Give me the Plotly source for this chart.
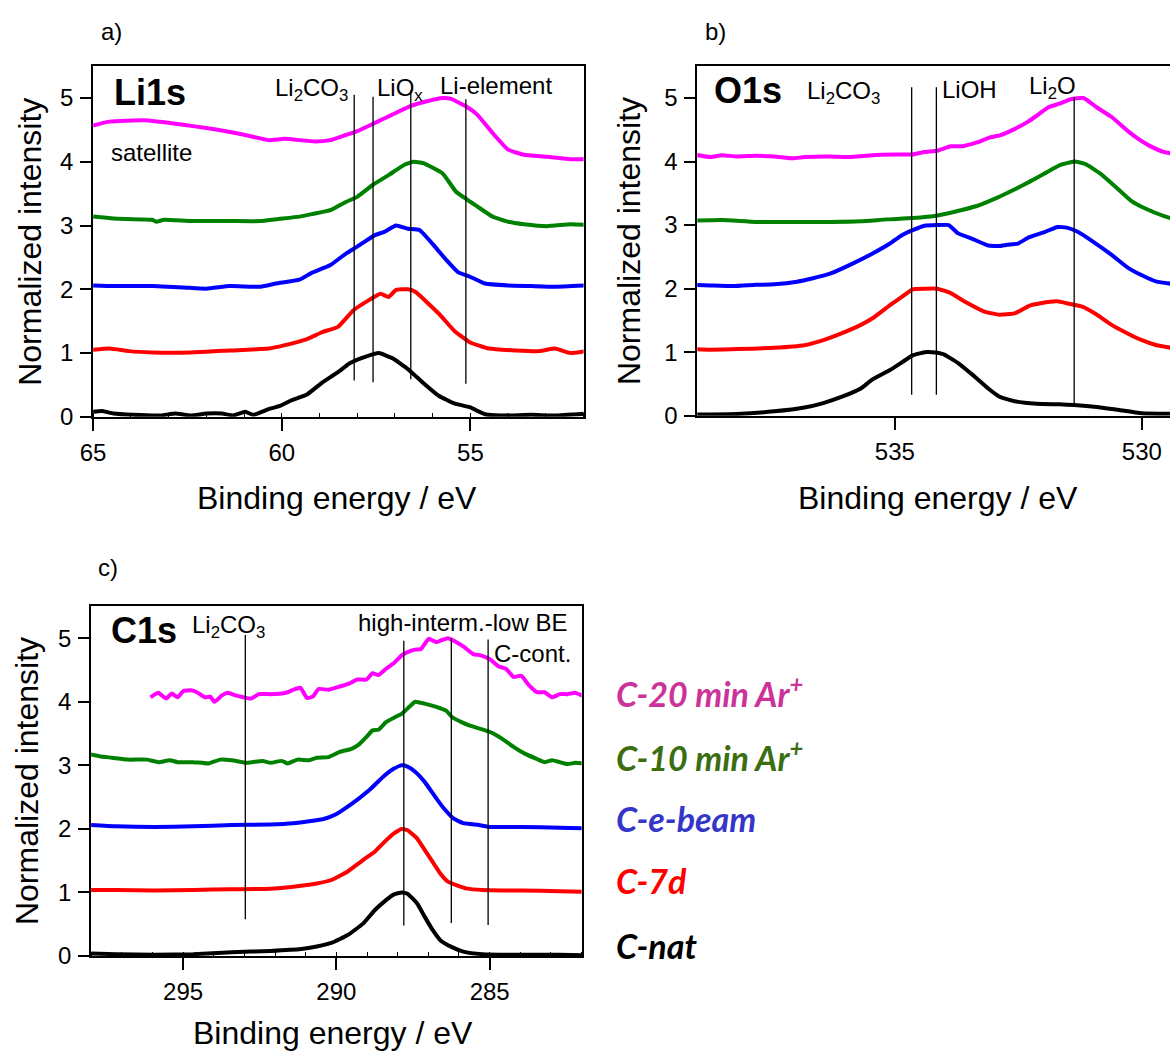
import plotly.graph_objects as go

W, H = 1170, 1052

SERIES = ["C-nat", "C-7d", "C-e-beam", "C-10 min Ar<sup>+</sup>", "C-20 min Ar<sup>+</sup>"]
LINE_COLORS = ["#000000", "#FF0000", "#0000FF", "#008000", "#FF00FF"]
LABEL_COLORS = ["#000000", "#FF0000", "#3535C8", "#3B6E11", "#CC3399"]

# ---------------- Li 1s ----------------
LI_X_NAT = [65, 64.76, 64.46, 63.94, 63.23, 62.82, 62.41, 62.0, 61.58, 61.28, 60.97, 60.76, 60.35, 60.05,
            59.74, 59.33, 58.92, 58.51, 58.2, 57.79, 57.43, 57.07, 56.66, 56.25, 55.84, 55.43, 55.02,
            54.61, 54.2, 53.38, 52.76, 51.94]
LI_Y_NAT = [0.08, 0.09, 0.05, 0.03, 0.02, 0.05, 0.02, 0.05, 0.05, 0.02, 0.08, 0.03, 0.12, 0.17,
            0.26, 0.35, 0.54, 0.70, 0.84, 0.94, 1.0, 0.92, 0.75, 0.53, 0.33, 0.21, 0.15,
            0.04, 0.02, 0.03, 0.02, 0.05]
LI_X_7D = [65, 64.56, 64.05, 63.43, 62.41, 61.38, 60.35, 59.94, 59.33, 58.92, 58.51, 58.10, 57.69, 57.38,
           57.17, 56.97, 56.66, 56.46, 55.84, 55.43, 55.02, 54.51, 53.79, 53.17, 52.76, 52.35, 51.94]
LI_Y_7D = [1.05, 1.07, 1.03, 1.01, 1.01, 1.04, 1.07, 1.12, 1.22, 1.33, 1.41, 1.67, 1.83, 1.93,
           1.88, 1.99, 2.0, 1.96, 1.62, 1.35, 1.17, 1.07, 1.04, 1.03, 1.07, 1.0, 1.03]
LI_X_EB = [65, 64.46, 63.43, 62.61, 62.0, 61.38, 60.56, 60.15, 59.53, 59.23, 58.71, 58.30, 58.0, 57.53,
           57.28, 56.97, 56.66, 56.35, 55.94, 55.64, 55.33, 55.02, 54.61, 54.0, 53.38, 52.76, 51.94]
LI_Y_EB = [2.06, 2.05, 2.05, 2.03, 2.01, 2.05, 2.04, 2.09, 2.15, 2.25, 2.38, 2.56, 2.67, 2.85,
           2.90, 3.0, 2.95, 2.93, 2.67, 2.46, 2.27, 2.20, 2.09, 2.06, 2.05, 2.04, 2.06]
LI_X_10 = [65, 64.46, 63.43, 63.33, 63.12, 62.41, 61.38, 60.56, 60.15, 59.53, 59.12, 58.71, 58.30, 58.0,
           57.58, 57.17, 56.76, 56.51, 56.25, 55.74, 55.38, 55.07, 54.82, 54.41, 54.0, 53.58, 52.97,
           52.35, 51.94]
LI_Y_10 = [3.14, 3.11, 3.09, 3.06, 3.09, 3.07, 3.07, 3.07, 3.10, 3.14, 3.19, 3.24, 3.37, 3.45,
           3.64, 3.79, 3.95, 4.0, 3.98, 3.82, 3.53, 3.40, 3.30, 3.14, 3.06, 3.02, 2.99,
           3.02, 3.01]
LI_X_20 = [65, 64.56, 63.64, 62.61, 62.0, 61.48, 60.97, 60.35, 59.94, 59.12, 58.71, 58.30, 58.0, 57.53,
           57.07, 56.56, 56.15, 55.74, 55.53, 55.12, 54.82, 54.41, 54.0, 53.58, 52.97, 52.35, 51.94]
LI_Y_20 = [4.57, 4.63, 4.65, 4.58, 4.53, 4.48, 4.42, 4.34, 4.36, 4.32, 4.34, 4.42, 4.48, 4.61,
           4.74, 4.88, 4.95, 5.0, 4.99, 4.87, 4.74, 4.45, 4.19, 4.11, 4.08, 4.04, 4.04]
LI_REF_E = [58.08, 57.58, 56.58, 55.12]
LI_REF_LO = [0.57, 0.54, 0.59, 0.52]
LI_REF_HI = [5.05, 5.02, 5.12, 4.98]

# ---------------- O 1s ----------------
O_X_NAT = [539.08, 538.2, 537.44, 536.83, 536.45, 536.07, 535.69, 535.46, 535.1, 534.86, 534.64, 534.40,
           534.25, 534.02, 533.72, 533.42, 533.11, 532.88, 532.58, 532.13, 531.67, 531.37, 530.91,
           530.46, 530.0, 529.33]
O_Y_NAT = [0.02, 0.03, 0.07, 0.13, 0.20, 0.30, 0.43, 0.57, 0.72, 0.84, 0.95, 1.0,
           1.0, 0.97, 0.83, 0.64, 0.43, 0.30, 0.23, 0.19, 0.18, 0.17, 0.14,
           0.09, 0.04, 0.03]
O_X_7D = [539.08, 538.73, 538.2, 537.44, 536.83, 536.53, 536.07, 535.69, 535.46, 535.1, 534.86, 534.64,
          534.40, 534.14, 533.87, 533.57, 533.19, 532.88, 532.58, 532.28, 532.05, 531.71, 531.52,
          531.22, 530.91, 530.61, 530.30, 530.0, 529.70, 529.33]
O_Y_7D = [1.05, 1.04, 1.05, 1.07, 1.11, 1.17, 1.30, 1.43, 1.53, 1.74, 1.87, 1.99,
          2.0, 2.0, 1.93, 1.79, 1.64, 1.59, 1.61, 1.73, 1.77, 1.80, 1.77,
          1.72, 1.59, 1.43, 1.30, 1.19, 1.11, 1.06]
O_X_EB = [539.08, 538.73, 538.27, 537.82, 537.44, 536.98, 536.68, 536.3, 535.92, 535.46, 535.1, 534.86,
          534.64, 534.40, 534.14, 533.91, 533.72, 533.42, 533.11, 532.88, 532.73, 532.51, 532.28,
          531.97, 531.71, 531.52, 531.29, 530.99, 530.61, 530.30, 530.0, 529.70, 529.33]
O_Y_EB = [2.06, 2.05, 2.04, 2.06, 2.07, 2.11, 2.16, 2.24, 2.37, 2.55, 2.71, 2.84,
          2.92, 2.99, 3.0, 3.0, 2.87, 2.78, 2.68, 2.67, 2.69, 2.71, 2.81,
          2.89, 2.97, 2.96, 2.89, 2.74, 2.53, 2.34, 2.21, 2.11, 2.07]
O_X_10 = [539.08, 538.5, 537.82, 537.06, 536.3, 535.69, 535.16, 534.64, 534.14, 533.79, 533.34, 532.96,
          532.58, 532.28, 531.97, 531.67, 531.37, 531.14, 530.84, 530.53, 530.23, 529.93, 529.55, 529.33]
O_Y_10 = [3.07, 3.08, 3.05, 3.05, 3.05, 3.06, 3.09, 3.11, 3.15, 3.21, 3.30, 3.42,
          3.56, 3.68, 3.81, 3.94, 4.0, 3.96, 3.81, 3.60, 3.39, 3.26, 3.14, 3.09]
O_X_20 = [539.08, 538.73, 538.5, 538.2, 537.82, 537.44, 537.06, 536.83, 536.3, 535.92, 535.46, 535.01,
          534.64, 534.40, 534.14, 533.87, 533.64, 533.34, 533.07, 532.88, 532.58, 532.32, 532.13,
          531.90, 531.67, 531.44, 531.18, 530.91, 530.61, 530.30, 530.08, 529.85, 529.55, 529.33]
O_Y_20 = [4.11, 4.07, 4.10, 4.08, 4.09, 4.08, 4.05, 4.07, 4.08, 4.07, 4.10, 4.11,
          4.11, 4.15, 4.17, 4.24, 4.24, 4.30, 4.38, 4.41, 4.51, 4.62, 4.72,
          4.85, 4.91, 4.98, 5.0, 4.85, 4.70, 4.49, 4.36, 4.25, 4.15, 4.12]
O_REF_E = [534.66, 534.16, 531.37]
O_REF_LO = [0.33, 0.33, 0.18]
O_REF_HI = [5.17, 5.17, 5.01]

# ---------------- C 1s ----------------
C_X_NAT = [298.01, 297.19, 295.93, 294.67, 293.41, 292.15, 291.15, 290.64, 290.14, 289.63, 289.13, 288.75,
           288.38, 288.12, 287.87, 287.68, 287.37, 287.12, 286.86, 286.61, 286.23, 285.86, 285.23,
           283.97, 282.71, 281.95]
C_Y_NAT = [0.04, 0.03, 0.02, 0.03, 0.06, 0.08, 0.11, 0.15, 0.21, 0.33, 0.51, 0.72,
           0.88, 0.97, 1.0, 0.98, 0.83, 0.62, 0.41, 0.25, 0.14, 0.07, 0.03,
           0.02, 0.02, 0.01]
C_X_7D = [298.01, 297.19, 295.93, 294.67, 293.41, 292.15, 291.4, 290.64, 290.14, 289.63, 289.13, 288.75,
          288.38, 288.12, 287.87, 287.68, 287.37, 287.12, 286.86, 286.61, 286.36, 286.11, 285.73,
          285.23, 283.97, 282.71, 281.95]
C_Y_7D = [1.04, 1.04, 1.03, 1.04, 1.05, 1.06, 1.09, 1.14, 1.20, 1.33, 1.51, 1.64,
          1.82, 1.93, 2.0, 1.98, 1.85, 1.67, 1.48, 1.30, 1.17, 1.12, 1.06,
          1.04, 1.03, 1.02, 1.01]
C_X_EB = [298.01, 297.19, 295.93, 294.67, 293.41, 292.15, 291.4, 290.89, 290.39, 290.01, 289.63, 289.26,
          288.88, 288.5, 288.12, 287.87, 287.68, 287.43, 287.12, 286.74, 286.49, 286.17, 285.86,
          285.35, 284.97, 283.97, 282.71, 281.95]
C_Y_EB = [2.06, 2.04, 2.03, 2.04, 2.06, 2.07, 2.09, 2.12, 2.16, 2.23, 2.35, 2.48,
          2.63, 2.81, 2.95, 3.0, 2.98, 2.90, 2.74, 2.48, 2.32, 2.16, 2.09,
          2.06, 2.03, 2.03, 2.02, 2.01]
C_X_10 = [298.01, 297.7, 297.32, 296.81, 296.18, 295.81, 295.43, 295.18, 294.67, 294.17, 293.79, 293.41,
          292.91, 292.41, 292.15, 291.78, 291.59, 291.27, 290.89, 290.64, 290.26, 289.89, 289.51,
          289.26, 289.01, 288.82, 288.63, 288.38, 288.12, 287.87, 287.62, 287.43, 287.12, 286.74,
          286.42, 286.23, 285.92, 285.67, 285.35, 284.97, 284.6, 284.22, 283.84, 283.46, 283.21,
          282.96, 282.71, 282.46, 282.2, 281.95]
C_Y_10 = [3.17, 3.14, 3.12, 3.09, 3.09, 3.05, 3.08, 3.05, 3.05, 3.03, 3.09, 3.08,
          3.04, 3.07, 3.04, 3.07, 3.03, 3.09, 3.08, 3.12, 3.13, 3.21, 3.26,
          3.33, 3.45, 3.55, 3.56, 3.68, 3.75, 3.81, 3.92, 4.0, 3.97, 3.92,
          3.86, 3.76, 3.68, 3.63, 3.58, 3.52, 3.42, 3.29, 3.18, 3.10, 3.05,
          3.08, 3.05, 3.02, 3.04, 3.03]
C_X_20 = [296.06, 295.81, 295.55, 295.37, 295.18, 294.99, 294.74, 294.55, 294.29, 294.11, 293.98, 293.73,
          293.54, 293.29, 293.04, 292.78, 292.53, 292.15, 291.78, 291.59, 291.40, 291.17, 290.96,
          290.77, 290.58, 290.26, 289.89, 289.57, 289.32, 289.01, 288.82, 288.63, 288.38, 288.12,
          287.87, 287.68, 287.43, 287.24, 286.99, 286.74, 286.61, 286.36, 286.17, 285.86, 285.54,
          285.29, 284.97, 284.72, 284.47, 284.22, 283.97, 283.72, 283.46, 283.21, 282.96, 282.71,
          282.46, 282.20, 281.95]
C_Y_20 = [4.07, 4.14, 4.05, 4.13, 4.07, 4.17, 4.18, 4.15, 4.07, 4.08, 4.0, 4.10,
          4.14, 4.10, 4.07, 4.05, 4.12, 4.12, 4.13, 4.15, 4.19, 4.22, 4.06,
          4.08, 4.20, 4.19, 4.24, 4.29, 4.35, 4.35, 4.45, 4.42, 4.52, 4.61,
          4.73, 4.78, 4.82, 4.83, 4.99, 4.94, 4.96, 5.0, 4.96, 4.87, 4.75,
          4.73, 4.66, 4.56, 4.52, 4.39, 4.41, 4.26, 4.15, 4.15, 4.07, 4.12,
          4.12, 4.14, 4.09]
C_REF_E = [292.97, 287.8, 286.25, 285.05]
C_REF_LO = [0.58, 0.48, 0.52, 0.49]
C_REF_HI = [5.05, 4.96, 5.0, 4.98]

X_RANGES = {"x": [65, 52], "x2": [539, 529.43], "x3": [298, 282]}
X_TICKS = {"x": [65, 60, 55], "x2": [535, 530], "x3": [295, 290, 285]}
Y_RANGE = [0, 5.5]

FONT = "Liberation Sans, Arial, sans-serif"
LEGEND_FONT = "Lato, Open Sans, sans-serif"


def px(x):
    return x / W


def py(y):
    return 1 - y / H


fig = go.Figure()

panels = [
    ("x", "y", [(LI_X_NAT, LI_Y_NAT), (LI_X_7D, LI_Y_7D), (LI_X_EB, LI_Y_EB), (LI_X_10, LI_Y_10), (LI_X_20, LI_Y_20)],
     (LI_REF_E, LI_REF_LO, LI_REF_HI)),
    ("x2", "y2", [(O_X_NAT, O_Y_NAT), (O_X_7D, O_Y_7D), (O_X_EB, O_Y_EB), (O_X_10, O_Y_10), (O_X_20, O_Y_20)],
     (O_REF_E, O_REF_LO, O_REF_HI)),
    ("x3", "y3", [(C_X_NAT, C_Y_NAT), (C_X_7D, C_Y_7D), (C_X_EB, C_Y_EB), (C_X_10, C_Y_10), (C_X_20, C_Y_20)],
     (C_REF_E, C_REF_LO, C_REF_HI)),
]

shapes = []
for xa, ya, curves, refs in panels:
    for (xs, ys), name, col in zip(curves, SERIES, LINE_COLORS):
        fig.add_trace(go.Scatter(x=xs, y=ys, mode="lines", name=name, xaxis=xa, yaxis=ya,
                                 line=dict(color=col, width=4, shape="spline", smoothing=0.4),
                                 showlegend=False, hoverinfo="skip"))
    for e, lo, hi in zip(*refs):
        shapes.append(dict(type="line", xref=xa, yref=ya, x0=e, x1=e, y0=lo, y1=hi,
                           line=dict(color="black", width=1.3), layer="above"))

# plot-area boxes in pixels: left, right, top, bottom
BOX = {"x": (81, 577, 67, 422), "x2": (692, 1170, 67, 421), "x3": (79, 575, 614, 968)}


def xaxis_cfg(key, mirror=True, minor=True):
    l, r, t, b = BOX[key]
    cfg = dict(domain=[px(l), min(px(r), 1.0)], range=X_RANGES[key], tickvals=X_TICKS[key],
               showline=True, linecolor="black", linewidth=2, mirror=mirror,
               ticks="outside", ticklen=12, tickwidth=1.5, tickcolor="black",
               ticklabelstandoff=1, showgrid=False, zeroline=False,
               tickfont=dict(family=FONT, size=24, color="black"))
    if minor:
        cfg["minor"] = dict(dtick=1, ticks="inside", ticklen=4, tickwidth=1, tickcolor="black", showgrid=False)
    return cfg


def yaxis_cfg(key, anchor, mirror=True):
    l, r, t, b = BOX[key]
    return dict(domain=[py(b), py(t)], range=Y_RANGE, dtick=1, anchor=anchor,
                showline=True, linecolor="black", linewidth=2, mirror=mirror,
                ticks="outside", ticklen=11, tickwidth=1.5, tickcolor="black",
                ticklabelstandoff=2, showgrid=False, zeroline=False,
                tickfont=dict(family=FONT, size=24, color="black"))


fig.update_layout(
    width=W, height=H, margin=dict(l=0, r=0, t=0, b=0),
    paper_bgcolor="white", plot_bgcolor="white",
    xaxis=dict(xaxis_cfg("x"), anchor="y"),
    yaxis=yaxis_cfg("x", "x"),
    xaxis2=dict(xaxis_cfg("x2", minor=False), anchor="y2"),
    yaxis2=yaxis_cfg("x2", "x2", mirror=False),
    xaxis3=dict(xaxis_cfg("x3"), anchor="y3"),
    yaxis3=yaxis_cfg("x3", "x3"),
    shapes=shapes,
)

ann = []


def text(x, y, s, size=24, xref="paper", yref="paper", xanchor="left", yanchor="middle",
         bold=False, color="black", family=FONT, angle=0, italic=False):
    if bold:
        s = "<b>" + s + "</b>"
    if italic:
        s = "<i>" + s + "</i>"
    ann.append(dict(x=x, y=y, xref=xref, yref=yref, text=s, showarrow=False, xanchor=xanchor,
                    yanchor=yanchor, textangle=angle,
                    font=dict(family=family, size=size, color=color)))


# panel letters
text(px(87), py(32), "a)")
text(px(698), py(32), "b)")
text(px(84), py(575), "c)")

# axis titles
for cx, cy in [(328, 504), (935, 504), (324, 1046)]:
    text(px(cx), py(cy), "Binding energy / eV", size=32, xanchor="center")
for cx, cy in [(17, 245), (623, 244), (14, 791)]:
    text(px(cx), py(cy), "Normalized intensity", size=32, xanchor="center", angle=-90)

# Li 1s labels
text(64.5, 5.08, "Li1s", size=36, xref="x", yref="y", bold=True)
text(64.58, 4.14, "satellite", xref="x", yref="y")
text(60.22, 5.13, "Li<sub>2</sub>CO<sub>3</sub>", xref="x", yref="y")
text(57.53, 5.13, "LiO<sub>x</sub>", xref="x", yref="y")
text(55.86, 5.19, "Li-element", xref="x", yref="y")

# O 1s labels
text(538.7, 5.12, "O1s", size=36, xref="x2", yref="y2", bold=True)
text(536.82, 5.08, "Li<sub>2</sub>CO<sub>3</sub>", xref="x2", yref="y2")
text(534.08, 5.14, "LiOH", xref="x2", yref="y2")
text(532.32, 5.17, "Li<sub>2</sub>O", xref="x2", yref="y2")

# C 1s labels
text(297.41, 5.12, "C1s", size=36, xref="x3", yref="y3", bold=True)
text(294.77, 5.18, "Li<sub>2</sub>CO<sub>3</sub>", xref="x3", yref="y3")
text(282.42, 5.25, "high-interm.-low BE", xref="x3", yref="y3", xanchor="right")
text(282.29, 4.76, "C-cont.", xref="x3", yref="y3", xanchor="right")

# sample key
for name, col, cy in zip(SERIES, LABEL_COLORS, [957, 892, 829, 765, 701]):
    text(px(608), py(cy), name, size=34, color=col, family=LEGEND_FONT, bold=True, italic=True)

fig.update_layout(annotations=ann)

fig.write_html("out.html")
